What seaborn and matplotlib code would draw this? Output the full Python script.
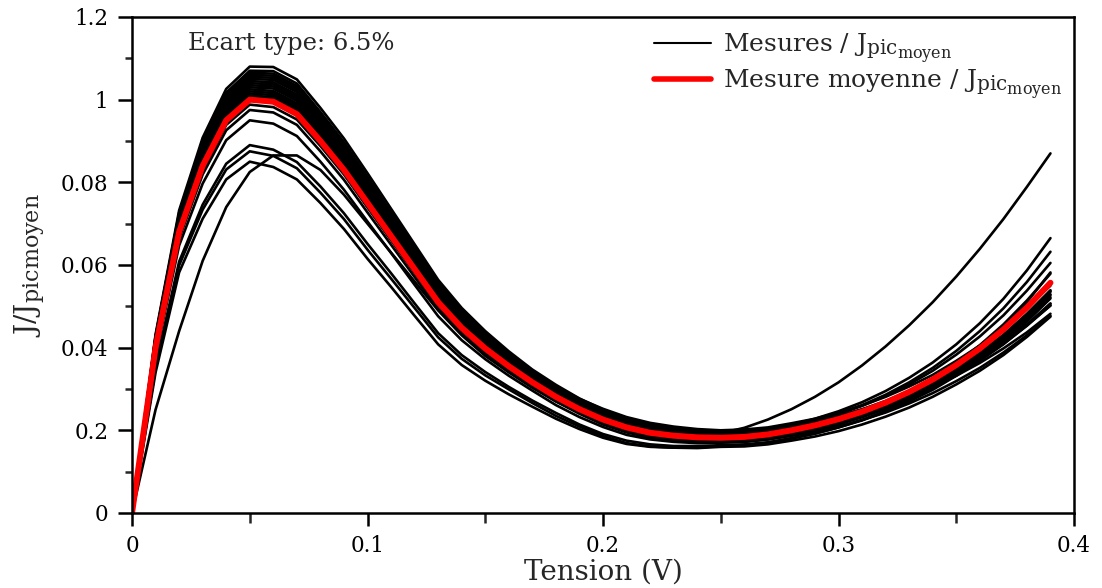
import pandas as pd
import seaborn as sns
import matplotlib.pyplot as plt
import matplotlib._mathtext as mathtext_internal
from matplotlib.lines import Line2D
from matplotlib.ticker import MultipleLocator

# tension (V)
tension = [0.00, 0.01, 0.02, 0.03, 0.04, 0.05, 0.06, 0.07, 0.08, 0.09,
           0.10, 0.11, 0.12, 0.13, 0.14, 0.15, 0.16, 0.17, 0.18, 0.19,
           0.20, 0.21, 0.22, 0.23, 0.24, 0.25, 0.26, 0.27, 0.28, 0.29,
           0.30, 0.31, 0.32, 0.33, 0.34, 0.35, 0.36, 0.37, 0.38, 0.39]

# mesure moyenne / Jpic moyen
moyenne = [0, .40, .68, .84, .95, 1.00, .995, .965, .90, .83,
           .75, .67, .59, .51, .448, .398, .355, .316, .281, .251,
           .226, .207, .194, .187, .183, .182, .184, .19, .20, .212,
           .227, .245, .267, .293, .323, .358, .398, .444, .497, .557]

# mesures individuelles
m01 = [0, .432, .732, .908, 1.026, 1.08, 1.079, 1.049, .98, .906,
       .822, .736, .65, .564, .496, .44, .391, .347, .31, .277,
       .25, .229, .213, .204, .197, .194, .196, .201, .21, .221,
       .235, .251, .271, .295, .322, .353, .389, .43, .476, .529]
m02 = [0, .426, .722, .895, 1.012, 1.065, 1.063, 1.033, .965, .892,
       .809, .723, .639, .554, .487, .432, .384, .343, .306, .276,
       .252, .232, .218, .209, .203, .20, .202, .207, .217, .228,
       .243, .26, .281, .306, .334, .368, .405, .449, .499, .555]
m03 = [0, .422, .716, .887, 1.002, 1.055, 1.053, 1.023, .955, .882,
       .80, .715, .631, .547, .481, .427, .38, .338, .30, .269,
       .243, .222, .208, .198, .193, .19, .192, .199, .21, .223,
       .239, .259, .283, .311, .344, .383, .427, .478, .538, .605]
m04 = [0, .418, .709, .878, .993, 1.045, 1.042, 1.012, .945, .873,
       .791, .707, .624, .541, .475, .421, .375, .335, .30, .27,
       .246, .227, .213, .205, .199, .197, .198, .203, .212, .221,
       .234, .25, .268, .29, .315, .344, .376, .413, .455, .502]
m05 = [0, .414, .703, .87, .983, 1.035, 1.032, 1.002, .935, .863,
       .782, .699, .616, .534, .469, .416, .371, .33, .294, .263,
       .237, .216, .203, .194, .189, .187, .19, .197, .209, .223,
       .24, .261, .286, .316, .351, .392, .44, .495, .559, .632]
m06 = [0, .41, .696, .861, .974, 1.025, 1.021, .991, .925, .854,
       .773, .691, .609, .527, .463, .411, .366, .326, .289, .257,
       .231, .211, .197, .189, .184, .182, .184, .189, .198, .208,
       .222, .238, .257, .28, .307, .337, .372, .411, .456, .507]
m07 = [0, .406, .69, .853, .964, 1.015, 1.011, .981, .915, .844,
       .764, .682, .601, .52, .457, .406, .362, .323, .288, .259,
       .235, .216, .204, .196, .191, .19, .193, .201, .213, .228,
       .246, .268, .295, .327, .364, .408, .459, .518, .587, .665]
m08 = [0, .403, .685, .847, .958, 1.008, 1.003, .973, .908, .838,
       .757, .677, .596, .515, .453, .402, .359, .319, .282, .251,
       .225, .204, .19, .182, .178, .177, .179, .184, .194, .205,
       .219, .236, .256, .28, .308, .34, .377, .419, .467, .522]
m09 = [0, .395, .672, .83, .939, .988, .982, .952, .888, .819,
       .739, .66, .581, .502, .441, .392, .35, .31, .275, .244,
       .218, .198, .185, .178, .175, .174, .176, .183, .194, .206,
       .222, .242, .265, .293, .325, .363, .406, .456, .514, .579]
m10 = [0, .39, .664, .819, .926, .975, .969, .939, .875, .806,
       .727, .649, .571, .493, .433, .385, .344, .305, .27, .24,
       .214, .195, .182, .176, .172, .172, .173, .178, .187, .196,
       .209, .225, .243, .265, .29, .319, .351, .388, .43, .477]
m11 = [0, .412, .70, .866, .979, 1.03, 1.027, .997, .93, .859,
       .777, .695, .613, .53, .466, .414, .369, .328, .293, .264,
       .239, .221, .207, .199, .194, .193, .206, .226, .251, .281,
       .316, .357, .403, .454, .51, .572, .639, .711, .789, .87]
m12 = [0, .38, .647, .797, .902, .95, .942, .912, .85, .782,
       .705, .629, .552, .476, .418, .372, .332, .296, .261, .232,
       .208, .189, .178, .172, .169, .17, .172, .178, .187, .199,
       .214, .232, .253, .278, .308, .342, .381, .425, .477, .535]
m13 = [0, .356, .608, .746, .845, .89, .879, .849, .79, .725,
       .651, .58, .507, .435, .382, .341, .305, .272, .242, .214,
       .191, .175, .166, .162, .162, .164, .166, .171, .181, .192,
       .207, .224, .245, .27, .298, .332, .369, .413, .463, .519]
m14 = [0, .35, .599, .734, .831, .875, .864, .834, .775, .711,
       .637, .567, .496, .425, .373, .333, .299, .266, .235, .209,
       .186, .169, .161, .158, .157, .16, .161, .166, .175, .185,
       .198, .214, .233, .255, .281, .311, .344, .382, .426, .475]
m15 = [0, .34, .582, .712, .807, .85, .837, .807, .75, .687,
       .615, .547, .477, .408, .358, .32, .287, .257, .228, .203,
       .182, .167, .16, .158, .158, .162, .164, .17, .18, .192,
       .207, .225, .247, .273, .303, .338, .378, .424, .477, .537]
m16 = [0, .25, .44, .61, .74, .825, .865, .865, .83, .77,
       .70, .63, .56, .49, .43, .38, .34, .303, .27, .242,
       .218, .20, .186, .178, .173, .171, .173, .179, .19, .202,
       .217, .236, .259, .287, .32, .358, .402, .452, .51, .582]
m17 = [0, .428, .726, .90, 1.017, 1.07, 1.069, 1.039, .97, .897,
       .813, .727, .643, .558, .49, .434, .387, .344, .305, .272,
       .244, .222, .206, .196, .19, .187, .188, .193, .202, .212,
       .225, .241, .26, .282, .308, .338, .371, .409, .453, .502]
m18 = [0, .42, .713, .883, .998, 1.05, 1.048, 1.018, .95, .878,
       .795, .711, .628, .544, .478, .424, .378, .335, .297, .264,
       .236, .215, .199, .19, .185, .182, .184, .189, .199, .21,
       .224, .241, .261, .285, .313, .345, .382, .424, .472, .527]
m19 = [0, .408, .693, .857, .969, 1.02, 1.016, .986, .92, .849,
       .768, .686, .605, .524, .46, .408, .364, .324, .286, .255,
       .228, .208, .193, .185, .181, .179, .181, .187, .196, .208,
       .222, .24, .261, .286, .315, .349, .387, .431, .482, .539]
m20 = [0, .416, .706, .874, .988, 1.04, 1.037, 1.007, .94, .868,
       .786, .703, .62, .537, .472, .419, .373, .332, .296, .266,
       .241, .222, .208, .199, .194, .192, .193, .197, .206, .215,
       .228, .242, .26, .281, .305, .332, .363, .398, .437, .482]
m21 = [0, .404, .687, .849, .96, 1.01, 1.006, .976, .91, .84,
       .759, .678, .598, .517, .454, .403, .36, .319, .282, .25,
       .224, .204, .189, .182, .177, .176, .178, .183, .192, .202,
       .216, .232, .252, .275, .302, .333, .368, .408, .454, .506]
m22 = [0, .424, .719, .891, 1.007, 1.06, 1.058, 1.028, .96, .887,
       .804, .719, .635, .551, .484, .429, .382, .339, .301, .268,
       .24, .219, .203, .194, .188, .185, .187, .193, .203, .214,
       .229, .246, .268, .293, .323, .358, .398, .444, .497, .55]

mesures = [m01, m02, m03, m04, m05, m06, m07, m08, m09, m10, m11,
           m12, m13, m14, m15, m16, m17, m18, m19, m20, m21, m22]

y_ticks = [0, 0.2, 0.4, 0.6, 0.8, 1.0, 1.2]
y_labels = ["0", "0.2", "0.04", "0.06", "0.08", "1", "1.2"]
x_ticks = [0, 0.1, 0.2, 0.3, 0.4]
x_labels = ["0", "0.1", "0.2", "0.3", "0.4"]

# long format for seaborn
rows = []
for k, courbe in enumerate(mesures):
    for t, j in zip(tension, courbe):
        rows.append({"courbe": k, "tension": t, "j": j})
df = pd.DataFrame(rows)
df_moy = pd.DataFrame({"tension": tension, "j": moyenne})

sns.set_style("ticks")
plt.rcParams["font.family"] = ["DejaVu Serif"]
plt.rcParams["mathtext.fontset"] = "dejavuserif"
# subscripts a bit larger than mathtext default (pic_moyen nested)
mathtext_internal.SHRINK_FACTOR = 0.8

fig = plt.figure(figsize=(11.02, 5.88), dpi=100)
ax = fig.add_axes([0.1198, 0.1276, 0.8548, 0.8435])

sns.lineplot(data=df, x="tension", y="j", units="courbe", estimator=None,
             color="black", linewidth=1.9, legend=False, ax=ax)
sns.lineplot(data=df_moy, x="tension", y="j", color="red", linewidth=4.3,
             legend=False, ax=ax)

ax.set_xlim(0, 0.4)
ax.set_ylim(0, 1.2)
ax.set_xticks(x_ticks)
ax.set_xticklabels(x_labels)
ax.set_yticks(y_ticks)
ax.set_yticklabels(y_labels)
ax.xaxis.set_minor_locator(MultipleLocator(0.05))
ax.yaxis.set_minor_locator(MultipleLocator(0.1))
ax.tick_params(axis="both", which="major", labelsize=15.5, width=1.8,
               color="black", labelcolor="black")
ax.tick_params(axis="y", which="major", length=10, pad=7)
ax.tick_params(axis="x", which="major", length=9, pad=7)
ax.tick_params(axis="y", which="minor", length=5, width=1.8)
ax.tick_params(axis="x", which="minor", length=7, width=1.8)
for s in ax.spines.values():
    s.set_linewidth(1.8)
    s.set_color("black")

ax.set_xlabel("Tension (V)", fontsize=20, labelpad=1)
ax.set_ylabel(r"J/J$_{\mathregular{picmoyen}}$", fontsize=20, labelpad=10)

ax.text(0.0594, 0.9456, "Ecart type: 6.5%", transform=ax.transAxes,
        fontsize=17.5, va="center", ha="left")

handles = [Line2D([], [], color="black", linewidth=1.5),
           Line2D([], [], color="red", linewidth=4)]
labels = [r"Mesures / J$_{\mathregular{pic}_{\mathregular{moyen}}}$",
          r"Mesure moyenne / J$_{\mathregular{pic}_{\mathregular{moyen}}}$"]
ax.legend(handles, labels, loc="upper left", bbox_to_anchor=(0.554, 0.972),
          frameon=False, fontsize=18, handlelength=2.3, handletextpad=0.45,
          labelspacing=0.1, borderpad=0, borderaxespad=0)

fig.savefig("out.png", dpi=100)
